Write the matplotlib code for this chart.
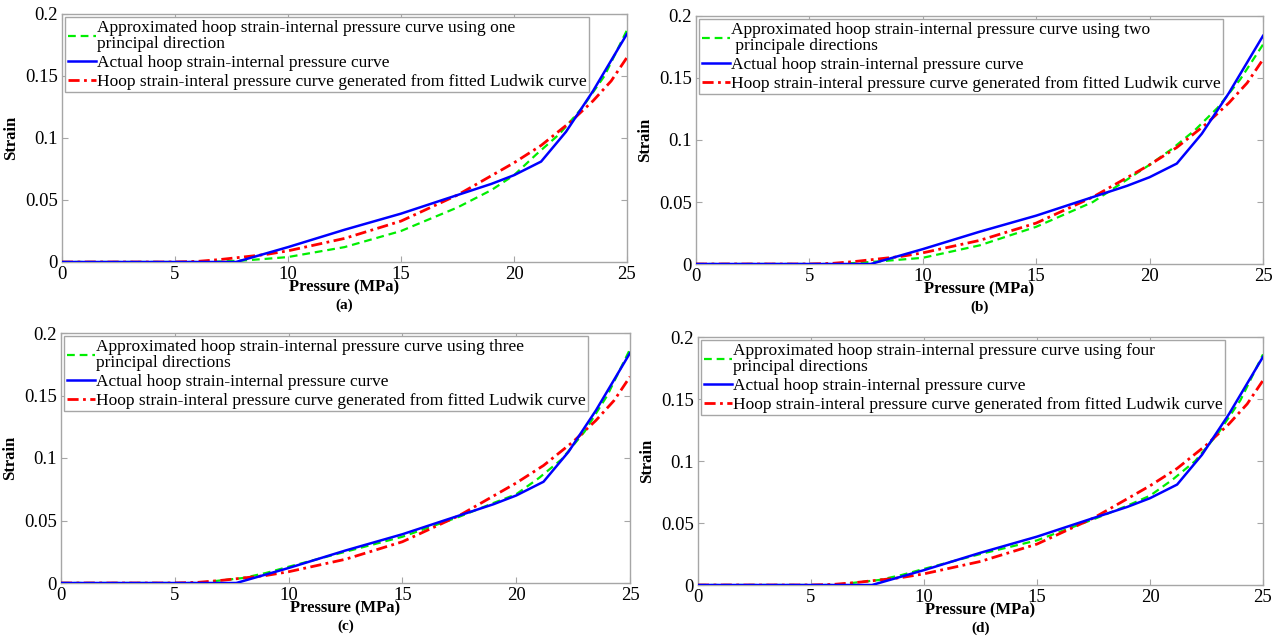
import matplotlib
matplotlib.use("Agg")
import matplotlib.pyplot as plt

plt.rcParams['font.family'] = ['Liberation Serif', 'DejaVu Serif']
plt.rcParams['mathtext.fontset'] = 'stix'

# Actual hoop strain vs internal pressure (common to all panels)
actual_p = [0, 7.7, 10, 12.5, 15, 17.5, 19, 20, 21.2, 22.3, 23.5, 25]
actual_e = [0, 0, 0.012, 0.026, 0.039, 0.054, 0.063, 0.070, 0.081, 0.105, 0.138, 0.184]

# Hoop strain from the fitted Ludwik curve (common to all panels)
ludwik_p = [0, 5, 6, 7, 8, 9, 10, 12.5, 15, 17.5, 20, 21.2, 22.5, 23.5, 24.3, 25]
ludwik_e = [0, 0, 0.0005, 0.002, 0.004, 0.006, 0.009, 0.019, 0.033, 0.054, 0.080, 0.094, 0.113, 0.130, 0.146, 0.165]

# Approximated curves for one to four principal directions
approx_p = [0, 6, 7, 8, 9, 10, 12.5, 15, 17.5, 19, 20, 21, 22, 23, 24, 25]
approx_one = [0, 0, 0.0004, 0.0012, 0.0025, 0.004, 0.012, 0.025, 0.044, 0.058, 0.070, 0.087, 0.103, 0.124, 0.150, 0.187]
approx_two = [0, 0, 0.0008, 0.002, 0.0035, 0.005, 0.015, 0.030, 0.050, 0.068, 0.080, 0.093, 0.108, 0.126, 0.149, 0.177]
approx_three = [0, 0, 0.002, 0.004, 0.008, 0.013, 0.025, 0.037, 0.053, 0.064, 0.071, 0.084, 0.099, 0.121, 0.150, 0.187]
approx_four = [0, 0, 0.002, 0.004, 0.008, 0.013, 0.025, 0.036, 0.053, 0.064, 0.072, 0.085, 0.100, 0.122, 0.149, 0.186]

approx_labels = [
    "Approximated hoop strain-internal pressure curve using one\nprincipal direction",
    "Approximated hoop strain-internal pressure curve using two\n principale directions",
    "Approximated hoop strain-internal pressure curve using three\nprincipal directions",
    "Approximated hoop strain-internal pressure curve using four\nprincipal directions",
]
approx_series = [approx_one, approx_two, approx_three, approx_four]
panel_tags = ["(a)", "(b)", "(c)", "(d)"]
actual_label = "Actual hoop strain-internal pressure curve"
ludwik_label = "Hoop strain-interal pressure curve generated from fitted Ludwik curve"

x_ticks = [0, 5, 10, 15, 20, 25]
y_ticks = [0, 0.05, 0.1, 0.15, 0.2]
y_tick_labels = ["0", "0.05", "0.1", "0.15", "0.2"]

W, H = 1282, 637
fig = plt.figure(figsize=(W / 100, H / 100), dpi=100)

# axes boxes in pixels: left, right, top, bottom
boxes = [
    (62, 627, 14, 262),
    (696, 1263, 16, 264),
    (61, 630, 333, 583),
    (698, 1263, 337, 585),
]

frame_grey = "#a6a6a6"

for i, (l, r, t, b) in enumerate(boxes):
    ax = fig.add_axes([l / W, 1 - b / H, (r - l) / W, (b - t) / H])
    ax.plot(approx_p, approx_series[i], color="#00ee00", linestyle=(0, (3.5, 2.2)),
            linewidth=1.6, label=approx_labels[i], zorder=3)
    ax.plot(actual_p, actual_e, color="#0000ff", linestyle="-", linewidth=1.8,
            label=actual_label, zorder=4)
    ax.plot(ludwik_p, ludwik_e, color="#ff0000", linestyle=(0, (4, 1.6, 1, 1.6)),
            linewidth=2.0, label=ludwik_label, zorder=3)

    ax.set_xlim(0, 25)
    ax.set_ylim(0, 0.2)
    ax.set_xticks(x_ticks)
    ax.set_xticklabels([str(v) for v in x_ticks])
    ax.set_yticks(y_ticks)
    ax.set_yticklabels(y_tick_labels)
    ax.tick_params(direction="in", top=True, right=True, length=4, width=0.8,
                   color=frame_grey, labelsize=13.5, pad=3)
    for s in ax.spines.values():
        s.set_color(frame_grey)
        s.set_linewidth(1.0)

    ax.set_xlabel("Pressure (MPa)", fontsize=12, fontweight="bold", labelpad=-2.5)
    ax.set_ylabel("Strain", fontsize=12, fontweight="bold", labelpad=4)
    ax.annotate(panel_tags[i], xy=(0.5, 0), xycoords="axes fraction",
                xytext=(0, -31), textcoords="offset points", ha="center", va="center",
                fontsize=11, fontweight="bold")

    leg = ax.legend(loc="upper left", fontsize=12.5, frameon=True, fancybox=False,
                    edgecolor=frame_grey, framealpha=1, borderaxespad=0.2,
                    handlelength=1.6, handletextpad=0.05, labelspacing=0.15,
                    borderpad=0.15)
    leg.get_frame().set_linewidth(1.0)
    for txt in leg.get_texts():
        txt.set_linespacing(1.0)

fig.savefig("out.png", dpi=100)
